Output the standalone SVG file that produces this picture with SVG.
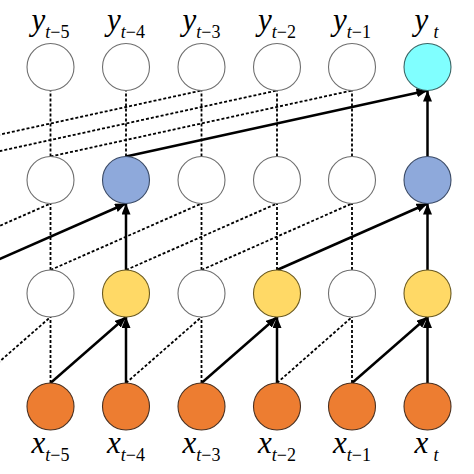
<svg xmlns="http://www.w3.org/2000/svg" width="474" height="474" viewBox="0 0 474 474">
<style>
.bg{fill:#ffffff}
.n{stroke-width:1.1}
.w{fill:#ffffff;stroke:#6f6f6f}
.o{fill:#ED7D31;stroke:#4a3020}
.yl{fill:#FFD966;stroke:#6b5a20}
.b{fill:#8EA9DB;stroke:#3a4a66}
.c{fill:#80FFFF;stroke:#3a6666}
.d{stroke:#000;stroke-width:1.8;stroke-dasharray:3 2;fill:none}
.s{stroke:#000;stroke-width:2.5;fill:none;marker-end:url(#ah)}
text{font-family:'Liberation Serif','Times New Roman',serif;font-style:italic;font-size:31px;fill:#000}
tspan.sub{font-size:18px}
tspan.up{font-style:normal}
</style>
<defs>
<marker id="ah" markerUnits="userSpaceOnUse" markerWidth="12" markerHeight="10" refX="11" refY="4.5" orient="auto">
<path d="M0,0 L11,4.5 L0,9 z" fill="#000"/>
</marker>
</defs>
<rect class="bg" x="0" y="0" width="474" height="474"/>
<g id="connectors">
<line class="d" x1="50.5" y1="383" x2="50.5" y2="317"/>
<line class="d" x1="201.5" y1="383" x2="201.5" y2="317"/>
<line class="d" x1="352" y1="383" x2="352" y2="317"/>
<line class="d" x1="-25" y1="383" x2="50.5" y2="317"/>
<line class="d" x1="126" y1="383" x2="201.5" y2="317"/>
<line class="d" x1="277" y1="383" x2="352" y2="317"/>
<line class="s" x1="126" y1="383" x2="126" y2="317"/>
<line class="s" x1="277" y1="383" x2="277" y2="317"/>
<line class="s" x1="427.5" y1="383" x2="427.5" y2="317"/>
<line class="s" x1="50.5" y1="383" x2="126" y2="317"/>
<line class="s" x1="201.5" y1="383" x2="277" y2="317"/>
<line class="s" x1="352" y1="383" x2="427.5" y2="317"/>
<line class="d" x1="50.5" y1="270" x2="50.5" y2="203.5"/>
<line class="d" x1="201.5" y1="270" x2="201.5" y2="203.5"/>
<line class="d" x1="277" y1="270" x2="277" y2="203.5"/>
<line class="d" x1="352" y1="270" x2="352" y2="203.5"/>
<line class="d" x1="-100.5" y1="270" x2="50.5" y2="203.5"/>
<line class="d" x1="50.5" y1="270" x2="201.5" y2="203.5"/>
<line class="d" x1="126" y1="270" x2="277" y2="203.5"/>
<line class="d" x1="201.5" y1="270" x2="352" y2="203.5"/>
<line class="s" x1="126" y1="270" x2="126" y2="203.5"/>
<line class="s" x1="427.5" y1="270" x2="427.5" y2="203.5"/>
<line class="s" x1="-25" y1="270" x2="126" y2="203.5"/>
<line class="s" x1="277" y1="270" x2="427.5" y2="203.5"/>
<line class="d" x1="50.5" y1="156.5" x2="50.5" y2="90.5"/>
<line class="d" x1="126" y1="156.5" x2="126" y2="90.5"/>
<line class="d" x1="201.5" y1="156.5" x2="201.5" y2="90.5"/>
<line class="d" x1="277" y1="156.5" x2="277" y2="90.5"/>
<line class="d" x1="352" y1="156.5" x2="352" y2="90.5"/>
<line class="d" x1="-100.5" y1="156.5" x2="201.5" y2="90.5"/>
<line class="d" x1="-25" y1="156.5" x2="277" y2="90.5"/>
<line class="d" x1="50.5" y1="156.5" x2="352" y2="90.5"/>
<line class="s" x1="427.5" y1="156.5" x2="427.5" y2="90.5"/>
<line class="s" x1="126" y1="156.5" x2="427.5" y2="90.5"/>
</g>
<g id="nodes-output">
<g id="y5"><circle class="n w" cx="50.5" cy="67" r="23.5"/><text x="50.5" y="30" text-anchor="middle">y<tspan class="sub" dy="8">t<tspan class="up">−5</tspan></tspan></text></g>
<g id="y4"><circle class="n w" cx="126" cy="67" r="23.5"/><text x="126" y="30" text-anchor="middle">y<tspan class="sub" dy="8">t<tspan class="up">−4</tspan></tspan></text></g>
<g id="y3"><circle class="n w" cx="201.5" cy="67" r="23.5"/><text x="201.5" y="30" text-anchor="middle">y<tspan class="sub" dy="8">t<tspan class="up">−3</tspan></tspan></text></g>
<g id="y2"><circle class="n w" cx="277" cy="67" r="23.5"/><text x="277" y="30" text-anchor="middle">y<tspan class="sub" dy="8">t<tspan class="up">−2</tspan></tspan></text></g>
<g id="y1"><circle class="n w" cx="352" cy="67" r="23.5"/><text x="352" y="30" text-anchor="middle">y<tspan class="sub" dy="8">t<tspan class="up">−1</tspan></tspan></text></g>
<g id="y0"><circle class="n c" cx="427.5" cy="67" r="23.5"/><text x="426.5" y="30" text-anchor="middle">y<tspan class="sub" dx="5" dy="8">t</tspan></text></g>
</g>
<g id="nodes-h3">
<g id="h3_5"><circle class="n w" cx="50.5" cy="180" r="23.5"/></g>
<g id="h3_4"><circle class="n b" cx="126" cy="180" r="23.5"/></g>
<g id="h3_3"><circle class="n w" cx="201.5" cy="180" r="23.5"/></g>
<g id="h3_2"><circle class="n w" cx="277" cy="180" r="23.5"/></g>
<g id="h3_1"><circle class="n w" cx="352" cy="180" r="23.5"/></g>
<g id="h3_0"><circle class="n b" cx="427.5" cy="180" r="23.5"/></g>
</g>
<g id="nodes-h2">
<g id="h2_5"><circle class="n w" cx="50.5" cy="293.5" r="23.5"/></g>
<g id="h2_4"><circle class="n yl" cx="126" cy="293.5" r="23.5"/></g>
<g id="h2_3"><circle class="n w" cx="201.5" cy="293.5" r="23.5"/></g>
<g id="h2_2"><circle class="n yl" cx="277" cy="293.5" r="23.5"/></g>
<g id="h2_1"><circle class="n w" cx="352" cy="293.5" r="23.5"/></g>
<g id="h2_0"><circle class="n yl" cx="427.5" cy="293.5" r="23.5"/></g>
</g>
<g id="nodes-input">
<g id="x5"><circle class="n o" cx="50.5" cy="406.5" r="23.5"/><text x="50.5" y="453" text-anchor="middle">x<tspan class="sub" dy="8">t<tspan class="up">−5</tspan></tspan></text></g>
<g id="x4"><circle class="n o" cx="126" cy="406.5" r="23.5"/><text x="126" y="453" text-anchor="middle">x<tspan class="sub" dy="8">t<tspan class="up">−4</tspan></tspan></text></g>
<g id="x3"><circle class="n o" cx="201.5" cy="406.5" r="23.5"/><text x="201.5" y="453" text-anchor="middle">x<tspan class="sub" dy="8">t<tspan class="up">−3</tspan></tspan></text></g>
<g id="x2"><circle class="n o" cx="277" cy="406.5" r="23.5"/><text x="277" y="453" text-anchor="middle">x<tspan class="sub" dy="8">t<tspan class="up">−2</tspan></tspan></text></g>
<g id="x1"><circle class="n o" cx="352" cy="406.5" r="23.5"/><text x="352" y="453" text-anchor="middle">x<tspan class="sub" dy="8">t<tspan class="up">−1</tspan></tspan></text></g>
<g id="x0"><circle class="n o" cx="427.5" cy="406.5" r="23.5"/><text x="426.5" y="453" text-anchor="middle">x<tspan class="sub" dx="5" dy="8">t</tspan></text></g>
</g>
</svg>
